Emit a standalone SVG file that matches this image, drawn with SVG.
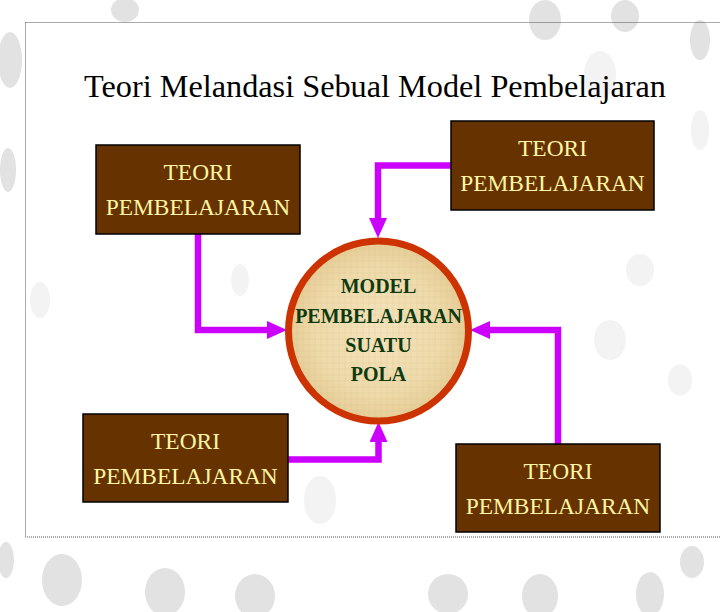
<svg xmlns="http://www.w3.org/2000/svg" width="720" height="612" viewBox="0 0 720 612" font-family="Liberation Serif">
<style>
.box{fill:#663300;stroke:#000;stroke-width:1.5}
.bt{font-family:'Liberation Serif','Times New Roman',serif;font-size:23.4px;fill:#FFF5A5;text-anchor:middle}
.ct{font-family:'Liberation Serif','Times New Roman',serif;font-size:20px;font-weight:bold;fill:#0F3A0F;text-anchor:middle}
.ttl{font-family:'Liberation Serif','Times New Roman',serif;font-size:32px;fill:#000;text-anchor:middle}
.conn{fill:none;stroke:#CC00FF;stroke-width:6.5;stroke-linejoin:miter}
.blob{fill:#e2e2e2}
.blobi{fill:#f3f3f3}
</style>
<defs>
<marker id="ah" viewBox="0 0 20 18" refX="0" refY="9" markerWidth="20" markerHeight="18" markerUnits="userSpaceOnUse" orient="auto">
<path d="M0,0 L20,9 L0,18 Z" fill="#CC00FF"/>
</marker>
<radialGradient id="parch" cx="50%" cy="50%" r="50%">
<stop offset="0" stop-color="#F4E4BE"/>
<stop offset="0.7" stop-color="#EEDAAA"/>
<stop offset="1" stop-color="#E6CC96"/>
</radialGradient>
<pattern id="weave" width="6" height="6" patternUnits="userSpaceOnUse">
<path d="M0,3 H6 M3,0 V6" stroke="#D9BE88" stroke-width="0.6" opacity="0.5"/>
</pattern>
</defs>
<rect width="720" height="612" fill="#fff"/>
<g id="background">
<ellipse class="blob" cx="10" cy="60" rx="12" ry="28"/>
<ellipse class="blob" cx="125" cy="10" rx="14" ry="12"/>
<ellipse class="blob" cx="545" cy="20" rx="16" ry="20"/>
<ellipse class="blob" cx="625" cy="16" rx="14" ry="16"/>
<ellipse class="blob" cx="700" cy="40" rx="10" ry="20"/>
<ellipse class="blob" cx="8" cy="170" rx="8" ry="22"/>
<ellipse class="blob" cx="6" cy="560" rx="8" ry="18"/>
<ellipse class="blob" cx="62" cy="580" rx="20" ry="26"/>
<ellipse class="blob" cx="165" cy="592" rx="20" ry="24"/>
<ellipse class="blob" cx="255" cy="596" rx="20" ry="22"/>
<ellipse class="blob" cx="448" cy="594" rx="20" ry="20"/>
<ellipse class="blob" cx="540" cy="596" rx="18" ry="22"/>
<ellipse class="blob" cx="650" cy="594" rx="14" ry="22"/>
<ellipse class="blob" cx="692" cy="562" rx="12" ry="16"/>
<ellipse class="blobi" cx="600" cy="75" rx="16" ry="24"/>
<ellipse class="blobi" cx="700" cy="130" rx="9" ry="20"/>
<ellipse class="blobi" cx="640" cy="270" rx="14" ry="16"/>
<ellipse class="blobi" cx="610" cy="340" rx="16" ry="20"/>
<ellipse class="blobi" cx="680" cy="380" rx="12" ry="16"/>
<ellipse class="blobi" cx="40" cy="300" rx="10" ry="18"/>
<ellipse class="blobi" cx="320" cy="500" rx="16" ry="24"/>
<ellipse class="blobi" cx="240" cy="280" rx="9" ry="16"/>
</g>
<rect id="frame" x="25.5" y="22.5" width="700" height="514.5" fill="none" stroke="#555" stroke-width="1" stroke-dasharray="1,1"/>
<text id="title" class="ttl" x="375" y="97" textLength="582" lengthAdjust="spacingAndGlyphs">Teori Melandasi Sebual Model Pembelajaran</text>
<g id="connectors">
<path class="conn" d="M198,234 V330 H267" marker-end="url(#ah)"/>
<path class="conn" d="M451,165.5 H378 V218" marker-end="url(#ah)"/>
<path class="conn" d="M288,459.5 H378.5 V442" marker-end="url(#ah)"/>
<path class="conn" d="M558,444 V330 H490" marker-end="url(#ah)"/>
</g>
<g id="center">
<circle cx="378.5" cy="331" r="90" fill="url(#parch)"/>
<circle cx="378.5" cy="331" r="90" fill="url(#weave)"/>
<circle cx="378.5" cy="331" r="90" fill="none" stroke="#CC3300" stroke-width="7"/>
<text class="ct" x="378.5" y="293">MODEL</text>
<text class="ct" x="378.5" y="323">PEMBELAJARAN</text>
<text class="ct" x="378.5" y="352">SUATU</text>
<text class="ct" x="378.5" y="381">POLA</text>
</g>
<g id="box-top-left">
<rect class="box" x="96" y="145" width="204" height="89"/>
<text class="bt" x="198" y="180">TEORI</text>
<text class="bt" x="198" y="215">PEMBELAJARAN</text>
</g>
<g id="box-top-right">
<rect class="box" x="451" y="121" width="203" height="89"/>
<text class="bt" x="552.5" y="156">TEORI</text>
<text class="bt" x="552.5" y="191">PEMBELAJARAN</text>
</g>
<g id="box-bottom-left">
<rect class="box" x="83" y="414" width="205" height="88"/>
<text class="bt" x="185.5" y="449">TEORI</text>
<text class="bt" x="185.5" y="484">PEMBELAJARAN</text>
</g>
<g id="box-bottom-right">
<rect class="box" x="456" y="444" width="204" height="88"/>
<text class="bt" x="558" y="479">TEORI</text>
<text class="bt" x="558" y="514">PEMBELAJARAN</text>
</g>
</svg>
